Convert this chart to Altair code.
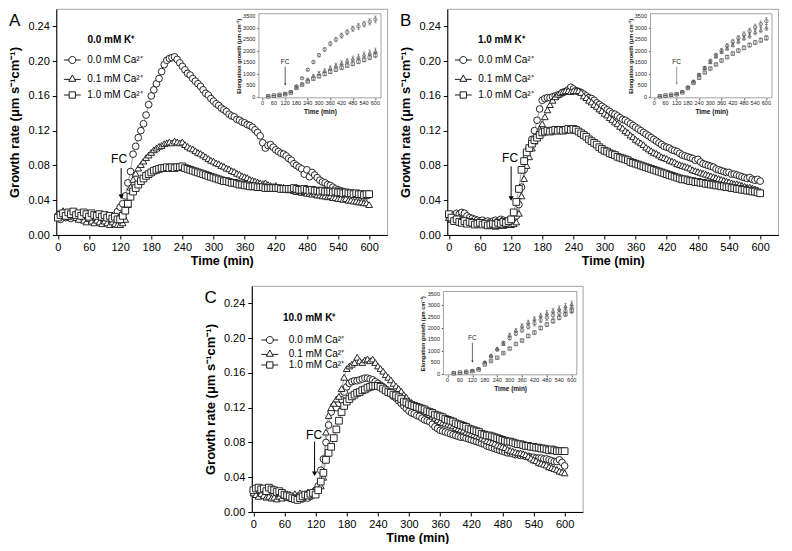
import altair as alt
import pandas as pd

FONT = "Liberation Sans, Arial, sans-serif"

SERIES = ["0.0 mM Ca²⁺", "0.1 mM Ca²⁺", "1.0 mM Ca²⁺"]
SHAPES = ["circle", "triangle-up", "square"]
LEG_PATHS = [
    "M-2.4,0L-1,0M1,0L2.4,0M1,0A1,1,0,1,1,-1,0A1,1,0,1,1,1,0Z",
    "M-2.4,0.25L-0.75,0.25M0.75,0.25L2.4,0.25M0,-1L1,0.8L-1,0.8Z",
    "M-2.4,0L-0.9,0M0.9,0L2.4,0M-0.9,-0.9L0.9,-0.9L0.9,0.9L-0.9,0.9Z",
]
X_TICKS = [0, 60, 120, 180, 240, 300, 360, 420, 480, 540, 600]
Y_TICKS = [0.0, 0.04, 0.08, 0.12, 0.16, 0.20, 0.24]
INSET_Y_TICKS = [0, 500, 1000, 1500, 2000, 2500, 3000, 3500]

# growth rate sampled every 5 min, 0..600 (values x 1000, um s-1 cm-1)
TIME = list(range(0, 601, 5))

A_CA00 = [22, 18, 24, 20, 21, 19, 23, 20, 22, 18, 21, 24, 20, 19, 22, 21, 18, 20, 17, 16, 15, 17, 20, 27,
          32, 36, 45, 60, 73, 93, 102, 112, 120, 128,
          138, 150, 160, 167, 174, 180, 188, 196, 201, 203,
          204, 205, 202, 198, 194, 190, 186, 184, 180, 177,
          174, 171, 167, 163, 161, 157, 154, 151, 149, 146,
          144, 142, 139, 137, 136, 133, 132, 130, 129, 127,
          126, 124, 121, 118, 114, 106, 100, 103, 104, 101,
          98, 96, 94, 93, 91, 88, 86, 82, 80, 78,
          76, 70, 75, 67, 72, 69, 66, 63, 61, 60,
          58, 57, 55, 53, 52, 51, 50, 49, 48, 48,
          47, 47, 46, 46, 45, 45, 46]
A_CA01 = [25, 22, 28, 24, 21, 26, 23, 20, 18, 22, 17, 15, 19, 16, 14, 17, 15, 13, 16, 14, 12, 15, 13, 12,
          12, 14, 18, 35, 55, 64, 71, 77, 81, 85,
          89, 92, 95, 98, 100, 102, 103, 105, 106, 107,
          106, 108, 107, 106, 107, 104, 102, 100, 99, 97,
          95, 94, 92, 90, 88, 86, 85, 83, 82, 80,
          79, 77, 76, 74, 73, 71, 70, 68, 67, 66,
          64, 63, 62, 61, 60, 59, 60, 58, 57, 56,
          57, 55, 54, 55, 53, 52, 53, 51, 50, 51,
          49, 50, 48, 48, 47, 48, 46, 46, 45, 45,
          44, 45, 43, 43, 42, 42, 41, 42, 40, 40,
          39, 39, 38, 38, 37, 37, 35]
A_CA10 = [20, 23, 25, 22, 26, 24, 27, 23, 25, 22, 26, 24, 21, 25, 23, 22, 24, 21, 23, 20, 22, 19, 21, 18,
          18, 22, 28, 36, 44, 50, 54, 58, 62, 65,
          68, 70, 72, 74, 75, 76, 77, 77, 78, 77,
          78, 77, 78, 78, 79, 77, 76, 75, 74, 73,
          72, 71, 70, 69, 68, 67, 66, 65, 64, 63,
          62, 62, 61, 60, 60, 59, 58, 58, 57, 57,
          56, 56, 56, 55, 55, 55, 54, 54, 54, 54,
          54, 54, 53, 53, 53, 53, 53, 54, 53, 52,
          52, 53, 52, 51, 52, 51, 51, 50, 51, 50,
          50, 50, 49, 50, 49, 49, 48, 49, 48, 48,
          47, 48, 47, 47, 46, 47, 47]

B_CA00 = [22, 20, 23, 25, 24, 26, 25, 22, 20, 19, 18, 17, 16, 17, 15, 16, 15, 16, 17, 16, 18, 17, 16, 17,
          18, 18, 22, 35, 55, 75, 90, 100, 110, 120,
          132, 145, 155, 157, 158, 158, 159, 160, 161, 162,
          164, 165, 167, 170, 168, 166, 165, 164, 162, 160,
          158, 157, 155, 152, 150, 148, 146, 144, 142, 140,
          139, 137, 135, 133, 132, 130, 128, 126, 124, 122,
          120, 118, 116, 114, 112, 110, 108, 106, 104, 102,
          101, 100, 98, 97, 96, 94, 92, 91, 90, 89,
          88, 86, 87, 84, 82, 81, 80, 79, 78, 76,
          75, 74, 73, 72, 72, 70, 70, 69, 68, 67,
          66, 65, 66, 64, 63, 64, 62]
B_CA01 = [20, 18, 17, 19, 21, 18, 16, 17, 15, 16, 14, 13, 14, 12, 13, 12, 11, 12, 10, 11, 12, 11, 12, 13,
          12, 13, 15, 25, 45, 65, 80, 90, 100, 108,
          115, 122, 128, 136, 144, 150, 155, 159, 162, 164,
          165, 166, 166, 165, 166, 166, 166, 164, 160, 158,
          155, 153, 150, 148, 145, 143, 140, 138, 135, 133,
          130, 128, 125, 123, 120, 118, 115, 113, 110, 108,
          106, 104, 101, 99, 97, 95, 94, 92, 90, 89,
          88, 86, 85, 84, 82, 81, 80, 79, 78, 77,
          75, 74, 73, 72, 71, 70, 69, 68, 67, 66,
          65, 64, 63, 62, 61, 60, 59, 59, 58, 57,
          56, 55, 55, 54, 53, 52, 50]
B_CA10 = [24, 20, 16, 18, 15, 14, 16, 13, 15, 14, 12, 13, 14, 12, 13, 11, 12, 13, 12, 14, 13, 15, 14, 16,
          18, 26, 38, 53, 75, 85, 95, 100, 105, 109,
          112, 115, 118, 119, 120, 119, 120, 121, 120, 121,
          120, 121, 122, 121, 122, 121, 119, 117, 115, 113,
          110, 108, 106, 104, 101, 99, 97, 96, 94, 93,
          92, 90, 89, 88, 87, 86, 84, 83, 82, 81,
          80, 79, 78, 77, 76, 75, 74, 73, 72, 71,
          70, 69, 68, 67, 66, 65, 64, 64, 63, 62,
          62, 61, 61, 60, 60, 59, 59, 58, 58, 57,
          57, 56, 56, 55, 55, 54, 54, 53, 53, 52,
          52, 51, 51, 50, 50, 49, 48]

C_CA00 = [24, 22, 25, 20, 23, 21, 22, 19, 21, 20, 18, 19, 17, 18, 16, 17, 15, 14, 16, 15, 17, 16, 18, 20,
          25, 30, 48, 61, 80, 100, 115, 122, 120, 125,
          129, 138, 144, 148, 150, 151, 151, 152, 153, 154,
          154, 153, 152, 150, 148, 146, 144, 141, 138, 136,
          133, 131, 128, 125, 122, 119, 116, 114, 113, 111,
          110, 108, 106, 105, 104, 101, 98, 96, 94, 93,
          92, 91, 90, 89, 88, 87, 86, 86, 85, 84,
          83, 82, 81, 80, 79, 78, 76, 75, 74, 73,
          72, 71, 70, 69, 68, 68, 67, 66, 66, 65,
          65, 64, 64, 63, 63, 62, 62, 62, 61, 61,
          60, 59, 58, 58, 60, 57, 53]
C_CA01 = [22, 20, 18, 21, 19, 17, 18, 16, 17, 15, 18, 16, 19, 17, 20, 18, 21, 19, 22, 20, 21, 23, 22, 24,
          24, 26, 30, 40, 92, 111, 120, 125, 130, 133,
          142, 155, 165, 168, 170, 172, 178, 174, 172, 175,
          176, 174, 176, 172, 168, 165, 162, 158, 155, 152,
          148, 145, 142, 139, 135, 132, 128, 126, 124, 122,
          120, 118, 116, 114, 112, 110, 108, 106, 104, 103,
          102, 101, 100, 99, 97, 96, 95, 94, 92, 91,
          90, 89, 88, 87, 85, 84, 82, 81, 80, 79,
          77, 76, 75, 74, 72, 71, 70, 69, 68, 68,
          67, 66, 64, 62, 60, 59, 57, 56, 55, 54,
          52, 51, 50, 49, 47, 46, 45]
C_CA10 = [25, 27, 28, 26, 27, 24, 28, 26, 25, 23, 24, 22, 20, 19, 18, 16, 15, 14, 16, 18, 20, 19, 21, 22,
          20, 25, 35, 45, 60, 68, 75, 85, 95, 105,
          115, 122, 127, 130, 133, 135, 137, 138, 140, 141,
          143, 144, 145, 145, 145, 144, 142, 140, 138, 137,
          135, 134, 132, 130, 127, 126, 124, 123, 122, 121,
          120, 119, 118, 116, 115, 114, 112, 111, 110, 109,
          107, 106, 105, 104, 102, 101, 100, 99, 98, 96,
          95, 94, 93, 92, 90, 89, 88, 88, 87, 86,
          85, 84, 83, 82, 81, 81, 80, 79, 78, 78,
          77, 76, 76, 75, 75, 74, 74, 73, 73, 72,
          71, 72, 71, 70, 70, 70, 70]

# inset: cumulative elongation growth (um cm-1), every 30 min
INSET_TIME = [30, 60, 90, 120, 150, 180, 210, 240, 270, 300, 330, 360, 390, 420, 450, 480, 510, 540, 570, 600]
IA_CA00 = [20, 50, 80, 120, 200, 450, 800, 1170, 1500, 1800, 2050, 2300, 2480, 2650, 2800, 2950, 3050, 3150, 3250, 3350]
IA_CA01 = [20, 50, 80, 110, 190, 400, 560, 750, 900, 1020, 1130, 1250, 1360, 1460, 1560, 1650, 1730, 1820, 1900, 1980]
IA_CA10 = [20, 50, 80, 110, 180, 380, 520, 660, 780, 880, 980, 1080, 1170, 1260, 1350, 1430, 1520, 1600, 1700, 1800]
IB_CA00 = [20, 50, 80, 110, 200, 400, 650, 950, 1250, 1550, 1800, 2000, 2200, 2380, 2550, 2700, 2850, 3020, 3150, 3280]
IB_CA01 = [20, 50, 80, 110, 200, 400, 650, 950, 1250, 1500, 1750, 1950, 2100, 2250, 2400, 2550, 2650, 2800, 2900, 3000]
IB_CA10 = [20, 50, 80, 110, 190, 380, 600, 820, 1050, 1220, 1400, 1570, 1720, 1870, 2000, 2120, 2240, 2350, 2450, 2550]
IC_CA00 = [20, 50, 80, 120, 200, 480, 750, 1050, 1350, 1550, 1750, 1900, 2050, 2200, 2350, 2450, 2550, 2650, 2750, 2850]
IC_CA01 = [20, 50, 80, 120, 210, 500, 800, 1100, 1300, 1700, 1900, 2100, 2250, 2400, 2550, 2650, 2750, 2850, 2950, 3050]
IC_CA10 = [20, 50, 80, 110, 180, 400, 550, 700, 900, 1100, 1300, 1450, 1650, 1800, 2000, 2150, 2300, 2450, 2600, 2750]
ERR_00 = [5, 5, 8, 10, 20, 30, 40, 50, 60, 70, 80, 90, 100, 110, 110, 120, 130, 130, 140, 150]
ERR_01 = [5, 5, 8, 10, 20, 30, 40, 50, 60, 70, 80, 85, 90, 95, 100, 110, 115, 120, 125, 130]
ERR_10 = [5, 5, 8, 10, 15, 25, 30, 40, 45, 50, 60, 65, 70, 75, 80, 85, 90, 95, 100, 110]

# annotations (data units): FC text position, arrow top and tip
FC_MAIN = {"A": (118, 0.088, 122, 0.077, 0.041),
           "B": (118, 0.089, 120, 0.079, 0.039),
           "C": (117, 0.089, 118, 0.081, 0.041)}
FC_INSET = {"A": (120, 1500, 120, 1300, 480),
            "B": (120, 1500, 120, 1300, 520),
            "C": (120, 1550, 120, 1350, 480)}
K_LABELS = {"A": "0.0 mM K⁺", "B": "1.0 mM K⁺", "C": "10.0 mM K⁺"}
K_POS = {"A": (57, 0.2244), "B": (56, 0.224), "C": (57, 0.2235)}

W, H = 331, 226


def build_panel(letter, main_vals, inset_vals, inset_frac, inset_xmax, leg, arrow_color):
    rows = []
    for s, vals in zip(SERIES, main_vals):
        assert len(vals) == len(TIME), (letter, s, len(vals))
        for t, v in zip(TIME, vals):
            rows.append({"t": t, "v": v / 1000.0, "series": s})
    df = pd.DataFrame(rows)
    base = alt.Chart(df)

    x = alt.X("t:Q", scale=alt.Scale(domain=[-3, 635], nice=False, zero=False),
              axis=alt.Axis(values=X_TICKS, title="Time (min)", grid=False, labelFont=FONT,
                            labelFontSize=11, titleFont=FONT, titleFontSize=12.5, titleFontWeight="bold",
                            tickSize=4, labelPadding=2, titlePadding=2, domainColor="black",
                            tickColor="black", labelColor="black", titleColor="black", labelFlush=False))
    y = alt.Y("v:Q", scale=alt.Scale(domain=[0, 0.26], nice=False, zero=False),
              axis=alt.Axis(values=Y_TICKS, format=".2f", title="Growth rate (μm s⁻¹cm⁻¹)", grid=False,
                            labelFont=FONT, labelFontSize=11, titleFont=FONT, titleFontSize=13,
                            titleFontWeight="bold", tickSize=4, labelPadding=3, titlePadding=6,
                            domainColor="black", tickColor="black", labelColor="black",
                            titleColor="black", labelFlush=False))

    lines = base.mark_line(color="#777777", strokeWidth=0.7).encode(x, y, detail="series:N")
    pts = [base.transform_filter(alt.datum.series == s)
           .mark_point(shape=sh, filled=True, fill="white", stroke="#1e1e1e", strokeWidth=0.95,
                       size=45, opacity=1)
           .encode(x, y)
           for s, sh in zip(SERIES, SHAPES)]
    legend_layer = base.transform_filter("false").mark_point(
        filled=False, stroke="black", strokeWidth=0.9, size=49, opacity=1).encode(
        x, y,
        shape=alt.Shape("series:N", scale=alt.Scale(domain=SERIES, range=LEG_PATHS),
                        legend=alt.Legend(title=None, orient="none",
                                          legendX=leg["x"], legendY=leg["y"], padding=0, symbolSize=49,
                                          symbolStrokeColor="black", symbolStrokeWidth=0.9,
                                          symbolOpacity=1, labelFont=FONT, labelFontSize=10,
                                          labelColor="black", labelOffset=leg["off"],
                                          rowPadding=leg["row"])))
    kx, ky = K_POS[letter]
    ktext = alt.Chart(pd.DataFrame({"t": [kx], "v": [ky]})).mark_text(
        font=FONT, fontSize=10, fontWeight="bold", align="left", baseline="middle", color="black").encode(
        x, y, text=alt.value(K_LABELS[letter]))

    ft, fy, at, a1, a2 = FC_MAIN[letter]
    fcd = pd.DataFrame({"t": [ft], "v": [fy]})
    fca = pd.DataFrame({"t": [at], "v": [a1], "v2": [a2 + 0.004]})
    fch = pd.DataFrame({"t": [at], "v": [a2 + 0.003]})
    fc_text = alt.Chart(fcd).mark_text(font=FONT, fontSize=12, color="black").encode(x, y, text=alt.value("FC"))
    fc_rule = alt.Chart(fca).mark_rule(color="black", strokeWidth=1).encode(x, y, y2="v2:Q")
    fc_head = alt.Chart(fch).mark_point(shape="triangle-down", filled=True, color="black", size=28,
                                        opacity=1).encode(x, y)

    main = alt.layer(lines, *pts, legend_layer, ktext, fc_text, fc_rule, fc_head)

    # ---- inset ----
    fx0, fx1, fy_bot, fy_top = inset_frac
    bx0, bx1 = fx0 * W, fx1 * W
    by1, by0 = fy_bot * H, fy_top * H
    irows = []
    for s, (vals, errs) in zip(SERIES, inset_vals):
        for t, v, e in zip(INSET_TIME, vals, errs):
            irows.append({"t": t, "v": v, "lo": v - e, "hi": v + e, "series": s})
    idf = pd.DataFrame(irows)
    ibase = alt.Chart(idf)
    ix = alt.X("t:Q", scale=alt.Scale(domain=[-20, inset_xmax], range=[bx0, bx1], nice=False, zero=False),
               axis=alt.Axis(orient="bottom", offset=by1 - H, values=X_TICKS, title="Time (min)", grid=False,
                             domain=False, labels=False, titleFont=FONT,
                             titleFontSize=6.5, titleFontWeight="bold", tickSize=2,
                             titlePadding=8, tickColor="#555555", titleColor="#111111"))
    iy = alt.Y("v:Q", scale=alt.Scale(domain=[-50, 3600], range=[by1, by0], nice=False, zero=False),
               axis=alt.Axis(orient="left", offset=-bx0, values=INSET_Y_TICKS, title="Elongation growth (μm cm⁻¹)",
                             grid=False, domain=False, labels=False, titleFont=FONT,
                             titleFontSize=5.5, titleFontWeight="bold", tickSize=2,
                             titlePadding=15, tickColor="#555555", titleColor="#111111"))
    ipts = [ibase.transform_filter(alt.datum.series == s)
            .mark_point(shape=sh, filled=True, fill="white", stroke="#333333", strokeWidth=0.6, size=12, opacity=1)
            .encode(ix, iy)
            for s, sh in zip(SERIES, SHAPES)]
    frame = alt.Chart(pd.DataFrame({"d": [0]})).mark_rect(fill="white", stroke="#8a8a8a", strokeWidth=0.8).encode(
        x=alt.XDatum(-20, type="quantitative"), x2=alt.X2Datum(inset_xmax),
        y=alt.YDatum(-50, type="quantitative"), y2=alt.Y2Datum(3600))
    xlab = alt.Chart(pd.DataFrame({"t": X_TICKS})).mark_text(
        font=FONT, fontSize=5.5, color="#222222", baseline="top", dy=3.5).encode(
        x=alt.X("t:Q"), y=alt.YDatum(-50, type="quantitative"), text=alt.Text("t:Q", format="d"))
    ylab = alt.Chart(pd.DataFrame({"v": INSET_Y_TICKS})).mark_text(
        font=FONT, fontSize=5.5, color="#222222", align="right", baseline="middle", dx=-3.5).encode(
        x=alt.XDatum(-20, type="quantitative"), y=alt.Y("v:Q"), text=alt.Text("v:Q", format="d"))
    ebar = ibase.mark_rule(color="#555555", strokeWidth=0.6).encode(
        x=alt.X("t:Q"), y=alt.Y("lo:Q"), y2="hi:Q")
    ecap_hi = ibase.mark_point(shape="stroke", size=9, color="#555555", strokeWidth=0.6).encode(
        x=alt.X("t:Q"), y=alt.Y("hi:Q"))
    ecap_lo = ibase.mark_point(shape="stroke", size=9, color="#555555", strokeWidth=0.6).encode(
        x=alt.X("t:Q"), y=alt.Y("lo:Q"))
    it, iyv, iat, ia1, ia2 = FC_INSET[letter]
    ifc_text = alt.Chart(pd.DataFrame({"t": [it], "v": [iyv]})).mark_text(
        font=FONT, fontSize=6.5, color="#222222").encode(x=alt.X("t:Q"), y=alt.Y("v:Q"), text=alt.value("FC"))
    ifc_rule = alt.Chart(pd.DataFrame({"t": [iat], "v": [ia1], "v2": [ia2 + 60]})).mark_rule(
        color=arrow_color, strokeWidth=0.7).encode(x=alt.X("t:Q"), y=alt.Y("v:Q"), y2="v2:Q")
    ifc_head = alt.Chart(pd.DataFrame({"t": [iat], "v": [ia2 + 50]})).mark_point(
        shape="triangle-down", filled=True, color=arrow_color, size=5, opacity=1).encode(
        x=alt.X("t:Q"), y=alt.Y("v:Q"))

    inset = alt.layer(frame, *ipts, xlab, ylab, ebar, ecap_hi, ecap_lo, ifc_text, ifc_rule, ifc_head)

    return alt.layer(main, inset).resolve_scale(x="independent", y="independent").properties(
        width=W, height=H,
        title=alt.TitleParams(letter, anchor="start", frame="bounds", fontSize=17, fontWeight="normal",
                              font=FONT, color="black", offset=-21))


LEG_AB = {"x": 11, "y": 46, "off": 10, "row": 6.5}
LEG_C = {"x": 13, "y": 49, "off": 14, "row": 1.5}

pA = build_panel("A", [A_CA00, A_CA01, A_CA10],
                 [(IA_CA00, ERR_00), (IA_CA01, ERR_01), (IA_CA10, ERR_10)],
                 (0.612, 0.981, 0.393, 0.021), 630, LEG_AB, "#222222")
pB = build_panel("B", [B_CA00, B_CA01, B_CA10],
                 [(IB_CA00, ERR_00), (IB_CA01, ERR_01), (IB_CA10, ERR_10)],
                 (0.614, 0.981, 0.393, 0.021), 630, LEG_AB, "#777777")
pC = build_panel("C", [C_CA00, C_CA01, C_CA10],
                 [(IC_CA00, ERR_00), (IC_CA01, ERR_01), (IC_CA10, ERR_10)],
                 (0.579, 0.982, 0.393, 0.024), 625, LEG_C, "#222222")

top = alt.hconcat(pA, pB, spacing=11).resolve_scale(shape="independent").resolve_legend(shape="independent")
chart = alt.vconcat(top, pC, spacing=18, center=True).resolve_scale(
    shape="independent").resolve_legend(shape="independent").configure_view(
    stroke="#8c8c8c", strokeWidth=0.8).properties(
    padding={"left": 0, "top": 0, "right": 0, "bottom": 0}, background="white")

chart.save("out.html", embed_options={"renderer": "svg", "actions": False})
